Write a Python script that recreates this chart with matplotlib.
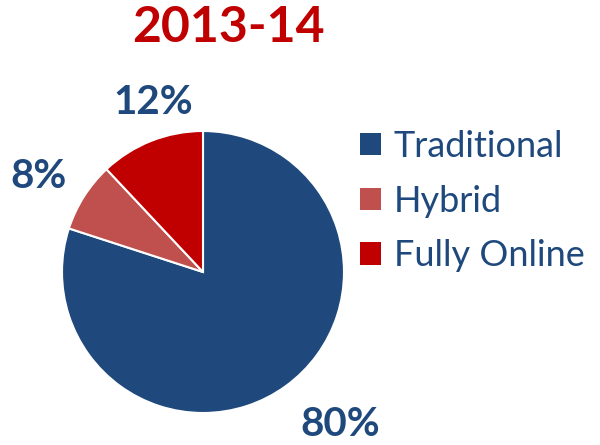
import matplotlib
matplotlib.use("Agg")
import matplotlib.pyplot as plt

title = "2013-14"
categories = ["Traditional", "Hybrid", "Fully Online"]
values = [80, 8, 12]
colors = ["#1F497D", "#C0504D", "#C00000"]
label_color = "#1F497D"

plt.rcParams['font.family'] = ['Lato', 'DejaVu Sans']

fig = plt.figure(figsize=(6.0, 4.45), dpi=100)
fig.patch.set_facecolor("white")

ax = fig.add_axes([(203 - 141) / 600, (445 - 413) / 445, 282 / 600, 282 / 445])
wedges, _ = ax.pie(values, colors=colors, startangle=90, counterclock=False,
                   wedgeprops=dict(edgecolor="white", linewidth=1.5))
ax.set_aspect("auto")
ax.set_xlim(-1, 1)
ax.set_ylim(-1, 1)

# percentage labels
label_pos = [(340, 425), (39, 176), (153, 102)]
for v, (px, py) in zip(values, label_pos):
    fig.text(px / 600, 1 - py / 445, f"{v}%", fontsize=29, fontweight="bold",
             color=label_color, ha="center", va="center")

fig.text(228 / 600, 1 - 28 / 445, title, fontsize=36, fontweight="bold",
         color="#C00000", ha="center", va="center")

leg = fig.legend(wedges, categories, loc="upper left",
                 bbox_to_anchor=(360 / 600, 1 - 130 / 445), frameon=False,
                 borderpad=0, borderaxespad=0,
                 fontsize=26, labelcolor=label_color, handlelength=0.58,
                 handleheight=0.58, handletextpad=0.35, labelspacing=0.6)
for h in leg.legend_handles:
    h.set_edgecolor("none")

fig.savefig("out.png", dpi=100)
